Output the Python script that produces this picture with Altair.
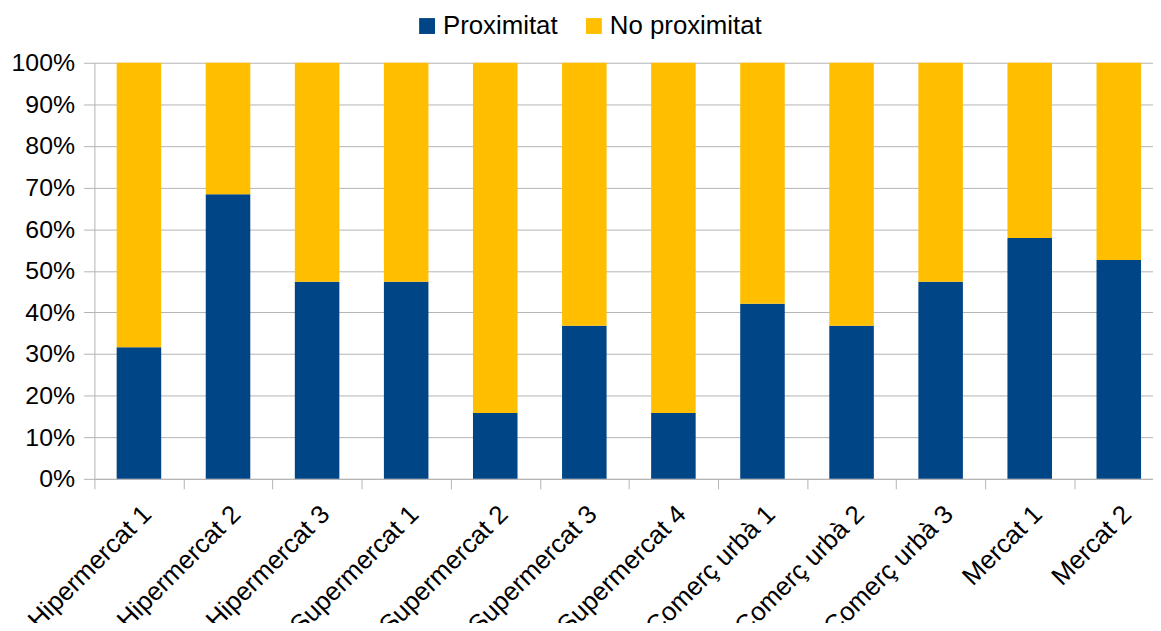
import altair as alt
import pandas as pd

categories = ["Hipermercat 1", "Hipermercat 2", "Hipermercat 3",
              "Supermercat 1", "Supermercat 2", "Supermercat 3", "Supermercat 4",
              "Comerç urbà 1", "Comerç urbà 2", "Comerç urbà 3",
              "Mercat 1", "Mercat 2"]
proximitat = [31.6, 68.4, 47.4, 47.4, 15.8, 36.8, 15.8, 42.1, 36.8, 47.4, 57.9, 52.6]
no_proximitat = [68.4, 31.6, 52.6, 52.6, 84.2, 63.2, 84.2, 57.9, 63.2, 52.6, 42.1, 47.4]
series = ["Proximitat", "No proximitat"]
colors = ["#004586", "#FFBF00"]

rows = []
for c, p, n in zip(categories, proximitat, no_proximitat):
    rows.append({"cat": c, "serie": series[0], "val": p, "ord": 0})
    rows.append({"cat": c, "serie": series[1], "val": n, "ord": 1})
df = pd.DataFrame(rows)

STEP = 89.7
FULL = STEP * 12
FONT = "Liberation Sans"
GRID = "#b3b3b3"

chart = alt.Chart(df).mark_bar().encode(
    x=alt.X("cat:N", sort=categories, title=None,
            scale=alt.Scale(range=[0, FULL], paddingInner=0.5, paddingOuter=0.25),
            axis=alt.Axis(labelAngle=-45, labelAlign="right", labelBaseline="middle",
                          labelFontSize=26, labelFont=FONT, labelColor="#000000",
                          tickOffset=-STEP / 2, labelOffset=STEP / 2 + 8,
                          labelPadding=21, tickSize=10, tickColor=GRID,
                          domainColor=GRID, grid=False, labelOverlap=False)),
    y=alt.Y("val:Q", stack="normalize", title=None,
            scale=alt.Scale(domain=[0, 1], nice=False),
            axis=alt.Axis(format=".0%", values=[i / 10 for i in range(11)],
                          labelFontSize=25, labelFont=FONT, labelColor="#000000",
                          tickSize=11, tickColor=GRID, domainColor=GRID,
                          gridColor=GRID, labelPadding=9)),
    color=alt.Color("serie:N", scale=alt.Scale(domain=series, range=colors),
                    legend=alt.Legend(title=None, orient="none", direction="horizontal",
                                      legendX=322, legendY=-50, padding=0,
                                      symbolType="square", symbolSize=256,
                                      symbolStrokeWidth=0, symbolOpacity=1,
                                      labelFontSize=26, labelFont=FONT,
                                      labelColor="#000000", labelOffset=3,
                                      columnPadding=23)),
    order=alt.Order("ord:Q"),
).properties(
    width=1066, height=419,
    autosize=alt.AutoSizeParams(type="none"),
    padding={"left": 87, "top": 53, "right": 0, "bottom": 143},
).configure_view(stroke=None)

chart.save("out.html", embed_options={"renderer": "svg", "actions": False})
